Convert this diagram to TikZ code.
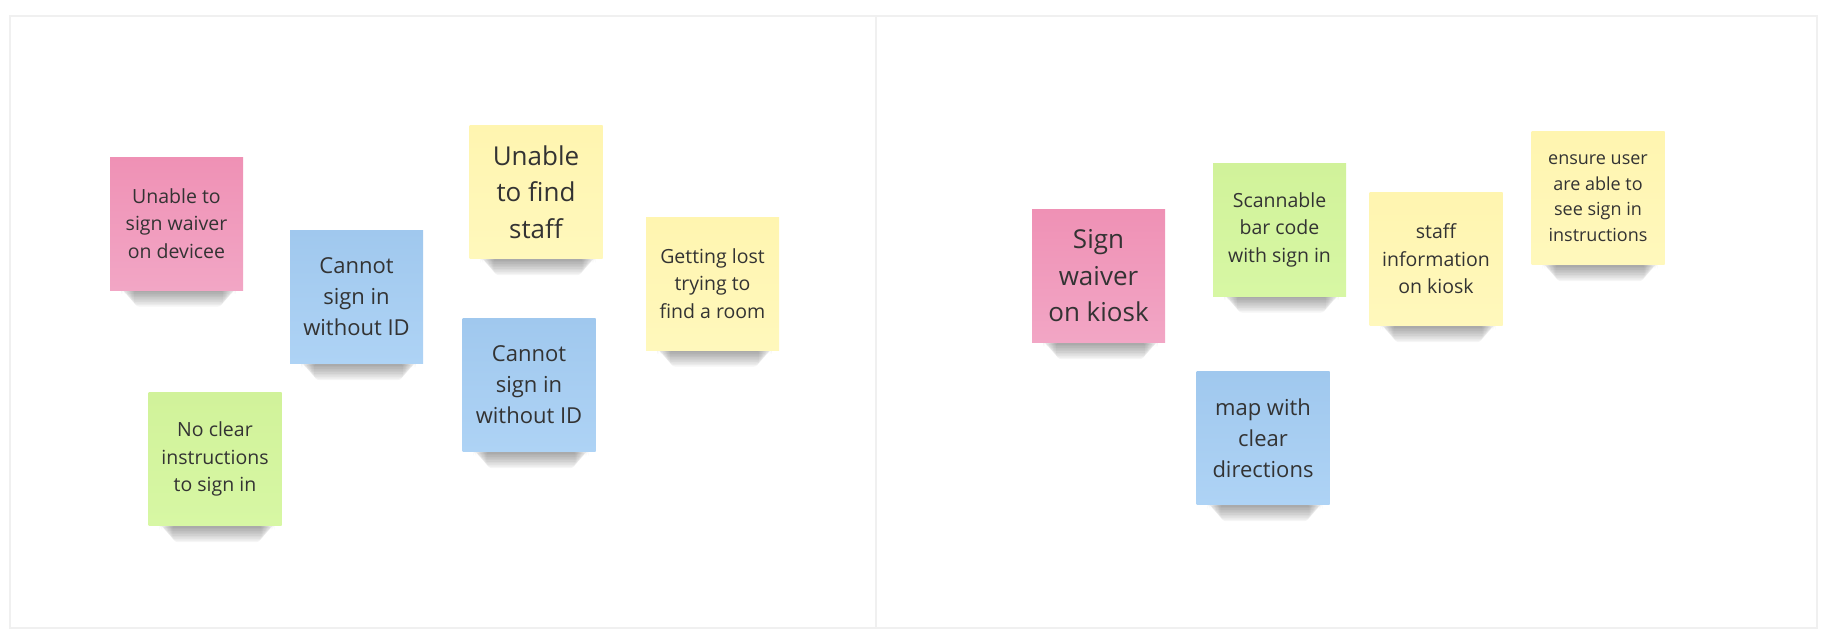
\documentclass[tikz,border=0pt]{standalone}
\usepackage{fontspec}
\setmainfont{Open Sans}
\usetikzlibrary{backgrounds}
\definecolor{inkgray}{RGB}{51,51,51}
\definecolor{framegray}{RGB}{240,240,240}
\definecolor{pinktop}{RGB}{239,145,181}
\definecolor{pinkbot}{RGB}{242,166,197}
\definecolor{bluetop}{RGB}{160,200,238}
\definecolor{bluebot}{RGB}{174,211,245}
\definecolor{yellowtop}{RGB}{255,245,176}
\definecolor{yellowbot}{RGB}{255,248,188}
\definecolor{greentop}{RGB}{209,242,154}
\definecolor{greenbot}{RGB}{215,247,164}

\begin{document}
\begin{tikzpicture}[
  x=1pt, y=-1pt,
  note/.style={minimum width=133pt, minimum height=133pt, inner sep=0pt,
    align=center, text=inkgray, font=\fontsize{19.5}{27.5}\selectfont},
  bignote/.style={note, font=\fontsize{26}{36.5}\selectfont},
  midnote/.style={note, font=\fontsize{22}{31}\selectfont},
  tightnote/.style={note, font=\fontsize{18}{25.5}\selectfont},
  pk/.style={top color=pinktop, bottom color=pinkbot},
  bl/.style={top color=bluetop, bottom color=bluebot},
  yl/.style={top color=yellowtop, bottom color=yellowbot},
  gr/.style={top color=greentop, bottom color=greenbot},
  panel/.style={draw=framegray, line width=2.5pt},
  shade/.style={fill=black, opacity=0.04, rounded corners=6pt},
]
\useasboundingbox (0,0) rectangle (1828,642);
% board frames
\draw[panel] (10,16) rectangle (876,628);
\draw[panel] (876,16) rectangle (1817,628);
% left board: problems
\node[note, pk] (wvA) at (176.5,223.5) {Unable to\\sign waiver\\on devicee};
\node[midnote, bl] (idA) at (356.5,297) {Cannot\\sign in\\without ID};
\node[bignote, yl] (stA) at (536,192) {Unable\\to find\\staff};
\node[note, yl] (rmA) at (712.5,283.5) {Getting lost\\trying to\\find a room};
\node[midnote, bl] (idB) at (529,385) {Cannot\\sign in\\without ID};
\node[note, gr] (inA) at (215,459) {No clear\\instructions\\to sign in};
% right board: ideas
\node[bignote, pk] (wvB) at (1098.5,276) {Sign\\waiver\\on kiosk};
\node[note, gr] (bcB) at (1279.5,229.5) {Scannable\\bar code\\with sign in};
\node[note, yl] (stB) at (1436,259) {staff\\information\\on kiosk};
\node[tightnote, yl] (inB) at (1598,198) {ensure user\\are able to\\see sign in\\instructions};
\node[midnote, bl] (mpB) at (1263,438) {map with\\clear\\directions};
% soft shadows under the notes
\begin{scope}[on background layer]
\foreach \n in {wvA,idA,stA,rmA,idB,inA,wvB,bcB,stB,inB,mpB} {
  \foreach \k in {1,...,10} {
    \fill[shade] ([xshift=10pt+1.4*\k pt, yshift=2pt]\n.south west)
      rectangle ([xshift=-6pt-1.4*\k pt, yshift=-0.5pt-1.6*\k pt]\n.south east);
  }
}
\end{scope}
\end{tikzpicture}
\end{document}
